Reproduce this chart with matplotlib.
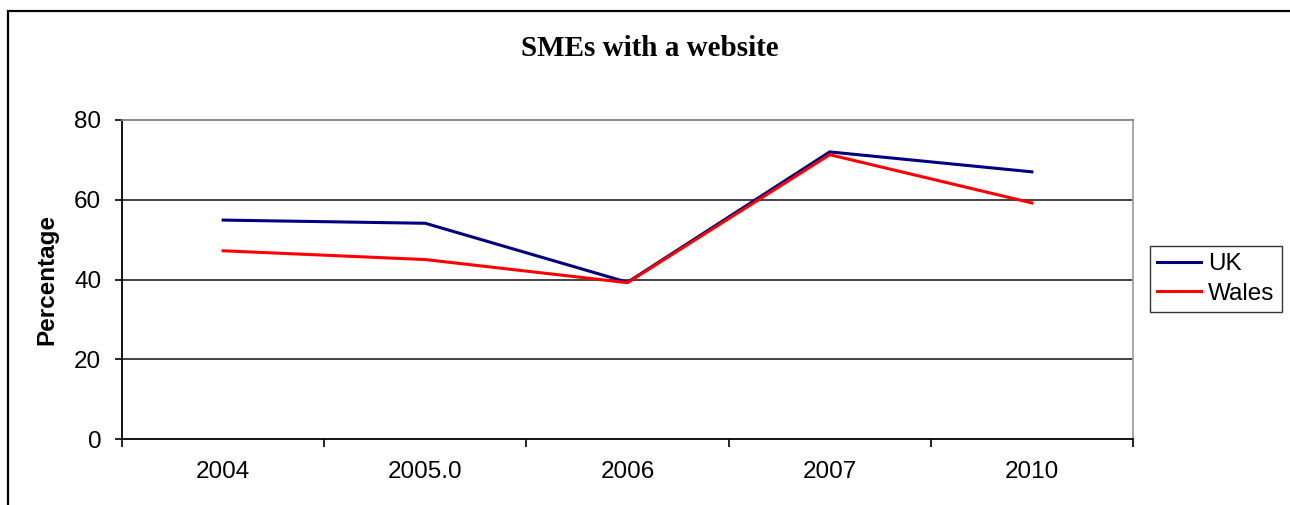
import matplotlib
matplotlib.use('Agg')
import matplotlib.pyplot as plt
from matplotlib.patches import Rectangle

years = ['2004', '2005.0', '2006', '2007', '2010']
uk = [54.9, 54.1, 39.3, 72.0, 67.0]
wales = [47.2, 45.0, 39.2, 71.3, 59.2]

plt.rcParams['font.family'] = ['Liberation Sans', 'DejaVu Sans']

fig = plt.figure(figsize=(12.9, 5.05), dpi=100)
fig.patch.set_facecolor('white')

# outer chart frame, cut off at the right and bottom
W, H = 1290.0, 505.0
fig.add_artist(Rectangle((8 / W, -0.2), 1.2, 1.2 - 11 / H, transform=fig.transFigure,
                         fill=False, edgecolor='black', lw=1.6))

ax = fig.add_axes([122 / W, 1 - 439 / H, (1133 - 122) / W, (439 - 120) / H])

x = list(range(len(years)))
ax.plot(x, uk, color='#000080', lw=2.2, label='UK', solid_joinstyle='miter')
ax.plot(x, wales, color='#ff0000', lw=2.2, label='Wales', solid_joinstyle='miter')

ax.set_xlim(-0.5, len(years) - 0.5)
ax.set_ylim(0, 80)
ax.set_yticks([0, 20, 40, 60, 80])
for v in [20, 40, 60]:
    ax.axhline(v, color='#222222', lw=1.2, zorder=0)

ax.set_xticks(x)
ax.set_xticklabels(years)
ax.set_xticks([i - 0.5 for i in range(len(years) + 1)], minor=True)
ax.tick_params(axis='x', which='major', length=0, pad=16, labelsize=17.5)
ax.tick_params(axis='x', which='minor', length=6, width=1.2, direction='out', color='black')
ax.tick_params(axis='y', length=5, width=1.2, direction='out', pad=10, labelsize=17.5)

ax.spines['left'].set_color('black')
ax.spines['left'].set_linewidth(1.3)
ax.spines['bottom'].set_color('black')
ax.spines['bottom'].set_linewidth(1.3)
ax.spines['top'].set_color('#808080')
ax.spines['top'].set_linewidth(1.3)
ax.spines['right'].set_color('#a0a0a0')
ax.spines['right'].set_linewidth(1.3)

ax.set_ylabel('Percentage', fontsize=17.5, fontweight='bold', labelpad=11)

fig.text(650 / W, 1 - 48 / H, 'SMEs with a website', ha='center', va='center',
         fontsize=21, fontweight='bold', family=['Liberation Serif', 'DejaVu Serif'])

leg = ax.legend(loc='center left', bbox_to_anchor=(1150 / W, 1 - 279 / H),
                bbox_transform=fig.transFigure, fontsize=17.5, frameon=True,
                fancybox=False, borderpad=0.3, handlelength=1.8, handletextpad=0.3,
                labelspacing=0.3, borderaxespad=0)
leg.get_frame().set_edgecolor('black')
leg.get_frame().set_linewidth(1.0)

fig.savefig('out.png', dpi=100, facecolor='white')
